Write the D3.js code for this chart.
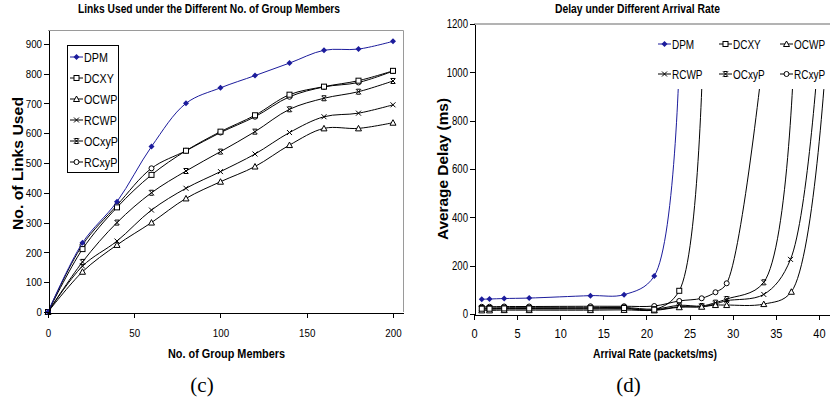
<!DOCTYPE html>
<html>
<head>
<meta charset="utf-8">
<script src="https://cdn.jsdelivr.net/npm/d3@7"></script>
<style>
  body { margin: 0; background: #fff; }
  svg { display: block; font-family: "Liberation Sans", Arial, sans-serif; }
</style>
</head>
<body>
<svg id="chart" width="830" height="406"></svg>
<script>
// ---- data ----
var seriesNames = ["DPM", "DCXY", "OCWP", "RCWP", "OCxyP", "RCxyP"];

// (c) links used vs number of group members
var members = [0, 20, 40, 60, 80, 100, 120, 140, 160, 180, 200];
var linksDPM   = [0, 232, 370, 555, 700, 752, 793, 835, 878, 882, 908];
var linksDCXY  = [0, 211, 351, 460, 541, 605, 660, 729, 756, 776, 809];
var linksOCWP  = [0, 135, 225, 300, 381, 437, 488, 560, 616, 616, 635];
var linksRCWP  = [0, 154, 238, 342, 415, 471, 530, 602, 655, 667, 695];
var linksOCxyP = [0, 168, 300, 400, 473, 538, 605, 680, 717, 739, 775];
var linksRCxyP = [0, 225, 358, 482, 541, 602, 655, 722, 755, 770, 808];

// (d) delay vs arrival rate (last point of each series sits under the legend)
var rateDPM   = [0.9, 1.8, 3.5, 6.4, 13.5, 17.4, 20.9, 23.9];
var delayDPM  = [61, 62, 64, 66, 76, 80, 157, 1150];
var rateDCXY  = [0.9, 1.8, 3.5, 6.4, 13.5, 17.4, 20.9, 23.8, 26.6];
var delayDCXY = [22, 22, 23, 23, 24, 25, 18, 96, 1150];
var rateOCWP  = [0.9, 1.8, 3.5, 6.4, 13.5, 17.4, 20.9, 23.8, 26.4, 28.0, 29.3, 33.6, 36.8, 41.0];
var delayOCWP = [15, 15, 16, 16, 16, 17, 15, 28, 30, 37, 37, 41, 92, 1150];
var rateRCWP  = [0.9, 1.8, 3.5, 6.4, 13.5, 17.4, 20.9, 23.8, 26.4, 28.0, 29.3, 33.6, 36.7, 40.1];
var delayRCWP = [20, 20, 21, 21, 21, 22, 17, 30, 30, 42, 55, 81, 226, 1150];
var rateOCxyP  = [0.9, 1.8, 3.5, 6.4, 13.5, 17.4, 20.9, 23.8, 26.4, 28.0, 29.3, 33.6, 37.2];
var delayOCxyP = [25, 25, 26, 26, 26, 27, 20, 36, 33, 47, 62, 131, 1150];
var rateRCxyP  = [0.9, 1.8, 3.5, 6.4, 13.5, 17.4, 20.9, 23.8, 26.4, 28.0, 29.3, 33.8];
var delayRCxyP = [30, 30, 31, 31, 32, 32, 33, 54, 65, 90, 127, 1150];

var linksTicks = [0, 100, 200, 300, 400, 500, 600, 700, 800, 900];
var membersTicks = [0, 50, 100, 150, 200];
var delayTicks = [0, 200, 400, 600, 800, 1000, 1200];
var rateTicks = [0, 5, 10, 15, 20, 25, 30, 35, 40];

var markerOf = { DPM: "diamond", DCXY: "square", OCWP: "triangle", RCWP: "cross", OCxyP: "star", RCxyP: "circle" };
function colorOf(name) { return name == "DPM" ? "#1c1c9c" : "#000"; }

var svg = d3.select("#chart");

// draw one marker symbol at x,y
function marker(g, type, x, y, color) {
  var m = g.append("g").attr("transform", "translate(" + x + "," + y + ")");
  if (type == "diamond") {
    m.append("path").attr("d", "M0,-3L3,0L0,3L-3,0Z").attr("fill", color);
  } else if (type == "square") {
    m.append("rect").attr("x", -2.5).attr("y", -2.5).attr("width", 5).attr("height", 5)
      .attr("fill", "#fff").attr("stroke", color);
  } else if (type == "triangle") {
    m.append("path").attr("d", "M0,-3L3,2.5L-3,2.5Z").attr("fill", "#fff").attr("stroke", color);
  } else if (type == "cross") {
    m.append("path").attr("d", "M-2.5,-2.5L2.5,2.5M2.5,-2.5L-2.5,2.5").attr("stroke", color);
  } else if (type == "star") {
    m.append("path").attr("d", "M-2.5,-2.5L2.5,2.5M2.5,-2.5L-2.5,2.5M-2,-2.5H2M-2,2.5H2").attr("stroke", color);
  } else {
    m.append("circle").attr("r", 2.5).attr("fill", "#fff").attr("stroke", color);
  }
}

// text squeezed into a given width
function fitText(txt, x, y, w, size, weight, rotate) {
  var t = svg.append("text")
    .attr("font-size", size)
    .attr("font-weight", weight || "normal")
    .attr("text-anchor", "middle")
    .attr("textLength", w)
    .attr("lengthAdjust", "spacingAndGlyphs")
    .text(txt);
  if (rotate) t.attr("transform", "translate(" + x + "," + y + ") rotate(-90)");
  else t.attr("x", x).attr("y", y);
  return t;
}

// =================== (c) left chart ===================
var xL = d3.scaleLinear().domain([0, 205.8]).range([48, 403]);
var yL = d3.scaleLinear().domain([0, 946]).range([312, 30]);

// grey frame (top + right)
svg.append("path")
  .attr("d", "M48,30.5H403.5V312")
  .attr("fill", "none").attr("stroke", "#9a9a9a").attr("stroke-width", 1);

var leftData = {
  DPM: linksDPM, DCXY: linksDCXY, OCWP: linksOCWP,
  RCWP: linksRCWP, OCxyP: linksOCxyP, RCxyP: linksRCxyP
};

var lineL = d3.line()
  .x(function (d) { return xL(d[0]); })
  .y(function (d) { return yL(d[1]); })
  .curve(d3.curveCatmullRom.alpha(0.5));

var gL = svg.append("g");
seriesNames.slice().reverse().forEach(function (name) {
  var pts = members.map(function (m, i) { return [m, leftData[name][i]]; });
  gL.append("path").datum(pts)
    .attr("d", lineL)
    .attr("fill", "none")
    .attr("stroke", colorOf(name))
    .attr("stroke-width", 1);
  pts.forEach(function (p) { marker(gL, markerOf[name], xL(p[0]), yL(p[1]), colorOf(name)); });
});

// axes
var axL = svg.append("g").attr("transform", "translate(48.5,0)")
  .call(d3.axisLeft(yL).tickValues(linksTicks).tickSize(5).tickSizeOuter(0).tickFormat(d3.format("d")));
var axB = svg.append("g").attr("transform", "translate(0,312.5)")
  .call(d3.axisBottom(xL).tickValues(membersTicks).tickSize(5).tickSizeOuter(0).tickFormat(d3.format("d")));

axL.selectAll(".tick text").attr("font-size", 11.5).attr("transform", "scale(0.85,1)").attr("x", -6.5 / 0.85);
axB.selectAll(".tick text").attr("font-size", 11.5).attr("dy", null).attr("y", 24.5)
  .attr("transform", "scale(0.85,1)").attr("x", 0);
[axL, axB].forEach(function (a) {
  a.attr("font-family", null).attr("font-size", null);
  a.selectAll("path,line").attr("shape-rendering", "crispEdges");
});

// legend (boxed)
svg.append("rect").attr("x", 67.5).attr("y", 45.5).attr("width", 51).attr("height", 127)
  .attr("fill", "#fff").attr("stroke", "#000");
seriesNames.forEach(function (name, i) {
  var ly = [57, 78, 99, 120, 141, 162][i];
  svg.append("line").attr("x1", 70).attr("x2", 83).attr("y1", ly).attr("y2", ly)
    .attr("stroke", colorOf(name));
  marker(svg, markerOf[name], 76.5, ly, colorOf(name));
  svg.append("text").attr("transform", "translate(84," + (ly + 4.5) + ") scale(0.86,1)")
    .attr("font-size", 12.5).text(name);
});

fitText("Links Used under the Different No. of Group Members", 209, 13, 262, 12, "bold");
fitText("No. of Links Used", 23, 163.5, 133, 14, "bold", true);
fitText("No. of Group Members", 226.5, 358, 117, 12.5, "bold");
svg.append("text").attr("x", 202).attr("y", 392).attr("text-anchor", "middle")
  .attr("font-family", "Liberation Serif, Times New Roman, serif").attr("font-size", 21).text("(c)");

// =================== (d) right chart ===================
var xR = d3.scaleLinear().domain([0, 41.28]).range([474, 830]);
var yR = d3.scaleLinear().domain([0, 1200]).range([314, 24]);

svg.append("clipPath").attr("id", "clipR")
  .append("rect").attr("x", 474).attr("y", 24).attr("width", 356).attr("height", 290);

var rightData = {
  DPM: [rateDPM, delayDPM], DCXY: [rateDCXY, delayDCXY], OCWP: [rateOCWP, delayOCWP],
  RCWP: [rateRCWP, delayRCWP], OCxyP: [rateOCxyP, delayOCxyP], RCxyP: [rateRCxyP, delayRCxyP]
};

var lineR = d3.line()
  .x(function (d) { return xR(d[0]); })
  .y(function (d) { return yR(d[1]); })
  .curve(d3.curveCatmullRom.alpha(0.5));

var gR = svg.append("g").attr("clip-path", "url(#clipR)");
seriesNames.slice().reverse().forEach(function (name) {
  var xs = rightData[name][0], ys = rightData[name][1];
  var pts = xs.map(function (x, i) { return [x, ys[i]]; });
  gR.append("path").datum(pts)
    .attr("d", lineR)
    .attr("fill", "none")
    .attr("stroke", colorOf(name))
    .attr("stroke-width", 1);
  pts.forEach(function (p) { marker(gR, markerOf[name], xR(p[0]), yR(p[1]), colorOf(name)); });
});

// legend (no frame, white background over the top of the plot)
svg.append("rect").attr("x", 650).attr("y", 26).attr("width", 180).attr("height", 63).attr("fill", "#fff");
seriesNames.forEach(function (name, i) {
  var lx = [658, 719, 780][i % 3];
  var ly = i < 3 ? 44 : 74;
  svg.append("line").attr("x1", lx).attr("x2", lx + 13).attr("y1", ly).attr("y2", ly)
    .attr("stroke", colorOf(name));
  marker(svg, markerOf[name], lx + 6.5, ly, colorOf(name));
  svg.append("text").attr("transform", "translate(" + (lx + 14) + "," + (ly + 4.5) + ") scale(0.8,1)")
    .attr("font-size", 12.5).text(name);
});

// grey top frame line
svg.append("line").attr("x1", 474).attr("x2", 830).attr("y1", 24).attr("y2", 24)
  .attr("stroke", "#9a9a9a").attr("stroke-width", 1.6);

var axRL = svg.append("g").attr("transform", "translate(474.5,0)")
  .call(d3.axisLeft(yR).tickValues(delayTicks).tickSize(5).tickSizeOuter(0).tickFormat(d3.format("d")));
var axRB = svg.append("g").attr("transform", "translate(0,314.5)")
  .call(d3.axisBottom(xR).tickValues(rateTicks).tickSize(5).tickSizeOuter(0).tickFormat(d3.format("d")));

axRL.selectAll(".tick text").attr("font-size", 12).attr("transform", "scale(0.8,1)").attr("x", -6.5 / 0.8);
axRB.selectAll(".tick text").attr("font-size", 12.5).attr("dy", null).attr("y", 23.5)
  .attr("transform", "scale(0.88,1)").attr("x", 0);
[axRL, axRB].forEach(function (a) {
  a.attr("font-family", null).attr("font-size", null);
  a.selectAll("path,line").attr("shape-rendering", "crispEdges");
});

fitText("Delay under Different Arrival Rate", 637.5, 13, 165, 12, "bold");
fitText("Average Delay (ms)", 448, 169, 142, 14, "bold", true);
fitText("Arrival Rate (packets/ms)", 655, 358, 124, 12.5, "bold");
svg.append("text").attr("x", 628.5).attr("y", 392).attr("text-anchor", "middle")
  .attr("font-family", "Liberation Serif, Times New Roman, serif").attr("font-size", 21).text("(d)");
</script>
</body>
</html>
